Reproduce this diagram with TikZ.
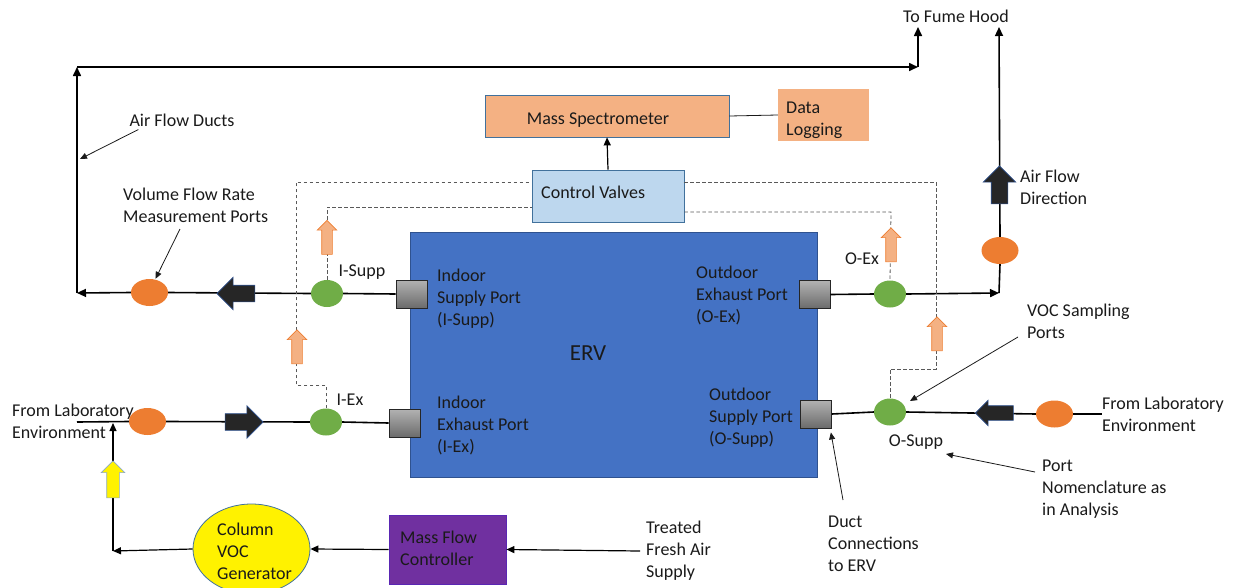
\documentclass[tikz,border=0pt]{standalone}
\usepackage{fontspec}
\setmainfont{Carlito}
\usetikzlibrary{shapes.geometric,shapes.arrows,arrows.meta}
\definecolor{ervblue}{HTML}{4472C4}
\definecolor{ervedge}{HTML}{2F528F}
\definecolor{dotgreen}{HTML}{70AD47}
\definecolor{dotorange}{HTML}{ED7D31}
\definecolor{salmon}{HTML}{F4B183}
\definecolor{cvblue}{HTML}{BDD7EE}
\definecolor{boxedge}{HTML}{41719C}
\definecolor{mfcpurple}{HTML}{7030A0}
\definecolor{txt}{HTML}{1A1A1A}
\definecolor{dashgray}{HTML}{595959}
\tikzset{
  lbl/.style={font=\fontsize{18}{22}\selectfont, text=txt, inner sep=0pt, align=left, yshift=-2pt},
  duct/.style={line width=1.6pt, black},
  ductarr/.style={duct, -{Triangle[length=9pt,width=8pt]}},
  feed/.style={line width=1.2pt, black, -{Triangle[length=8pt,width=7pt]}},
  ptr/.style={line width=0.8pt, txt, -{Triangle[length=7pt,width=6pt]}},
  sig/.style={dashgray, line width=0.8pt, dash pattern=on 3.5pt off 2.5pt},
  gdot/.style={ellipse, fill=dotgreen, minimum width=32pt, minimum height=27pt, inner sep=0pt},
  odot/.style={ellipse, fill=dotorange, minimum width=37pt, minimum height=27pt, inner sep=0pt},
  portbox/.style={rectangle, draw=black!85, line width=0.8pt, top color=black!30, bottom color=black!58, minimum width=31pt, minimum height=28pt, inner sep=0pt},
  flowarrow/.style={single arrow, fill=black!85, draw=ervedge, line width=0.6pt, inner sep=8pt, minimum height=38pt, single arrow head extend=8pt},
  samparrow/.style={single arrow, fill=salmon, draw=dotorange, line width=0.6pt, inner sep=5pt, minimum height=34pt, single arrow head extend=4.5pt, shape border rotate=90},
}
\begin{document}
\begin{tikzpicture}[x=1pt,y=-1pt]
\useasboundingbox (0,0) rectangle (1235,587);

% ERV body and ports
\node[rectangle, fill=ervblue, draw=ervedge, line width=0.8pt, minimum width=407pt, minimum height=245pt, inner sep=0pt] (erv) at (613.5,354.5) {};
\node[portbox] (pIS) at (411.5,294) {};
\node[portbox] (pIE) at (404.5,423) {};
\node[portbox] (pOE) at (814.5,294.5) {};
\node[portbox] (pOS) at (816,414) {};

% sampling and flow ports
\node[gdot] (gIS) at (327,293.5) {};
\node[gdot] (gIE) at (326,422) {};
\node[gdot] (gOE) at (890,294) {};
\node[gdot] (gOS) at (890,412) {};
\node[odot] (oL1) at (149.5,292.5) {};
\node[odot] (oL2) at (147.5,421.5) {};
\node[odot] (oR1) at (1000,250.5) {};
\node[odot] (oR2) at (1054.5,414) {};

% boxes
\node[rectangle, fill=cvblue, draw=boxedge, line width=0.8pt, minimum width=152pt, minimum height=52pt, inner sep=0pt] (cv) at (608,196) {};
\node[lbl, anchor=west] (cvl) at (541,190) {Control Valves};
\node[rectangle, fill=salmon, draw=boxedge, line width=0.8pt, minimum width=244pt, minimum height=42pt, inner sep=0pt] (ms) at (607,116) {};
\node[lbl] (msl) at (598,118) {Mass Spectrometer};
\node[rectangle, fill=salmon, minimum width=91pt, minimum height=52pt, inner sep=0pt] (dl) at (823.5,115) {};
\node[lbl, anchor=west] (dll) at (786,118.5) {Data\\Logging};
\node[rectangle, fill=mfcpurple, draw=mfcpurple!80!blue, line width=0.8pt, minimum width=117pt, minimum height=69pt, inner sep=0pt] (mfc) at (447.5,549.5) {};
\node[lbl, anchor=west] (mfcl) at (400,546) {Mass Flow\\Controller};
\node[ellipse, fill=yellow, draw=boxedge, line width=0.8pt, minimum width=117pt, minimum height=90pt, inner sep=0pt] (gen) at (251.5,549) {};
\node[lbl, anchor=west] (genl) at (217,549) {Column\\VOC\\Generator};

% coordinates of free duct ends and corners
\coordinate (cLB) at (77,293);
\coordinate (cLT) at (77,67);
\coordinate (cTR) at (918,67);
\coordinate (cFH1) at (918,27);
\coordinate (cRB) at (999,293);
\coordinate (cFH2) at (999,27);
\coordinate (cLL) at (77,422);
\coordinate (cGC) at (113,551);
\coordinate (cGT) at (113,423);

% labels
\node[lbl] (fh) at (956,14) {To Fume Hood};
\node[lbl] (afd) at (182,118) {Air Flow Ducts};
\node[lbl, anchor=west] (vfr) at (123,203) {Volume Flow Rate\\Measurement Ports};
\node[lbl] (lIS) at (362,270) {I-Supp};
\node[lbl] (lIE) at (350,398) {I-Ex};
\node[lbl] (lOE) at (862,257) {O-Ex};
\node[lbl] (lOS) at (916,440) {O-Supp};
\node[lbl, anchor=west] (tISP) at (437,297) {Indoor\\Supply Port\\(I-Supp)};
\node[lbl, anchor=west] (tOEP) at (696,293) {Outdoor\\Exhaust Port\\(O-Ex)};
\node[lbl, anchor=west] (tIEP) at (437,423) {Indoor\\Exhaust Port\\(I-Ex)};
\node[lbl, anchor=west] (tOSP) at (709,416) {Outdoor\\Supply Port\\(O-Supp)};
\node[lbl, font=\fontsize{23}{27}\selectfont] (ervl) at (588,351) {ERV};
\node[lbl, anchor=west] (afdir) at (1020,185) {Air Flow\\Direction};
\node[lbl, anchor=west] (voc) at (1027,319) {VOC Sampling\\Ports};
\node[lbl, anchor=west] (fl2) at (1102,412) {From Laboratory\\Environment};
\node[lbl, anchor=west] (pnom) at (1042,487) {Port\\Nomenclature as\\in Analysis};
\node[lbl, anchor=west] (dct) at (828,542) {Duct\\Connections\\to ERV};
\node[lbl, anchor=west] (fl1) at (12,419) {From Laboratory\\Environment};
\node[lbl, anchor=west] (tr) at (646,549) {Treated\\Fresh Air\\Supply};

% ducts: indoor supply row and return to fume hood
\draw[duct] (pIS.west) -- (gIS.east);
\draw[duct] (gIS.west) -- (oL1.east);
\draw[ductarr] (oL1.west) -- (cLB);
\draw[ductarr] (cLB) -- (cLT);
\draw[ductarr] (cLT) -- (cTR);
\draw[ductarr] (cTR) -- (cFH1);
% outdoor exhaust row
\draw[duct] (pOE.east) -- (gOE.west);
\draw[ductarr] (gOE.east) -- (cRB);
\draw[duct] (cRB) -- (oR1.south);
\draw[ductarr] (oR1.north) -- (cFH2);
% indoor exhaust row
\draw[duct] (cLL) -- (oL2.west);
\draw[duct] (oL2.east) -- (gIE.west);
\draw[duct] (gIE.east) -- (pIE.west);
% outdoor supply row
\draw[duct] (pOS.east) -- (gOS.west);
\draw[duct] (gOS.east) -- (oR2.west);
\draw[duct] (oR2.east) -- (fl2.west |- oR2.east);
% VOC generator feed
\draw[feed] ([xshift=-6pt]tr.west) -- (mfc.east);
\draw[feed] (mfc.west) -- (gen.east);
\draw[feed] (gen.west) -- (cGC);
\draw[feed] (cGC) -- (cGT);

% instruments
\draw[feed] (cv.north) -- (ms.south);
\draw[line width=0.8pt, txt] (ms.east) -- (dl.west);

% sampling lines
\coordinate (d1) at (296,182);
\coordinate (d2) at (327,207);
\coordinate (d3) at (891,212);
\coordinate (d4) at (936,182);
\coordinate (d5) at (936,369);
\draw[sig] (gIE.north) |- (296,385) -- (d1) -- (d1 -| cv.west);
\draw[sig] (gIS.north) -- (d2) -- (d2 -| cv.west);
\draw[sig] (d3 -| cv.east) -- (d3) -- (gOE.north);
\draw[sig] (d4 -| cv.east) -- (d4) -- (d5) -| (gOS.north);

% flow direction arrows
\node[flowarrow, shape border rotate=180] (aL1) at (240,293.5) {};
\node[flowarrow] (aL2) at (240,422) {};
\node[flowarrow, inner sep=7pt, single arrow head extend=5.5pt, shape border rotate=180] (aR2) at (998,413) {};
\node[flowarrow, shape border rotate=90] (aU) at (999.5,189) {};
\node[samparrow] (sIS) at (327,240) {};
\node[samparrow] (sIE) at (297,349.5) {};
\node[samparrow] (sOE) at (891,247.5) {};
\node[samparrow] (sOS) at (937,336.5) {};
\node[single arrow, fill=yellow, draw=boxedge!60, line width=0.6pt, inner sep=6pt, minimum height=37pt, single arrow head extend=5.5pt, shape border rotate=90] (yA) at (113,482.5) {};

% pointers
\draw[ptr] ([xshift=9pt,yshift=-3pt]afd.south west) -- (80,159);
\draw[ptr] (180,229) -- ([xshift=6pt]oL1.north);
\draw[ptr] (1018,337) -- ([xshift=20pt,yshift=11pt]gOS.center);
\draw[ptr] (1035,472) -- (946,454);
\draw[ptr] (843,500) -- ([xshift=-1pt,yshift=-4pt]pOS.south east);
\end{tikzpicture}
\end{document}
